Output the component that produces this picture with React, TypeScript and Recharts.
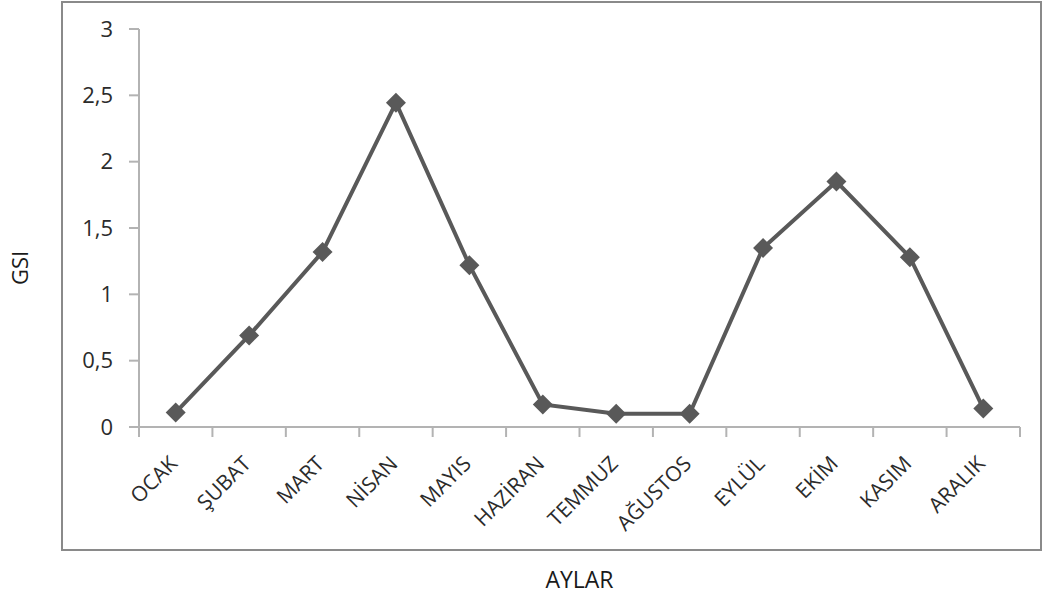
import { Label, Line, LineChart, XAxis, YAxis } from "recharts";

const CHART_W = 1046;
const CHART_H = 598;
const MARGIN = { top: 29, right: 26, bottom: 0, left: 0 };
const Y_AXIS_W = 139;

const months = [
  "OCAK",
  "ŞUBAT",
  "MART",
  "NİSAN",
  "MAYIS",
  "HAZİRAN",
  "TEMMUZ",
  "AĞUSTOS",
  "EYLÜL",
  "EKİM",
  "KASIM",
  "ARALIK",
];

const gsiValues = [0.11, 0.69, 1.32, 2.445, 1.22, 0.17, 0.1, 0.1, 1.35, 1.85, 1.28, 0.14];

const yTicks = [0, 0.5, 1, 1.5, 2, 2.5, 3];

const data = months.map((month, i) => ({ month, gsi: gsiValues[i] }));

const LINE_COLOR = "#595959";
const AXIS_COLOR = "#b3b3b3";
const TEXT_COLOR = "#2b2b2b";
const FONT = "'Open Sans', 'DejaVu Sans', sans-serif";

const BAND = (CHART_W - MARGIN.left - MARGIN.right - Y_AXIS_W) / months.length;

function MonthTick(props: any) {
  const { x, y, payload, index } = props;
  const tx = x + 3;
  const ty = y + 38;
  return (
    <g>
      <line x1={x - BAND / 2} y1={y} x2={x - BAND / 2} y2={y + 10} stroke={AXIS_COLOR} strokeWidth={2} />
      {index === months.length - 1 && (
        <line x1={x + BAND / 2} y1={y} x2={x + BAND / 2} y2={y + 10} stroke={AXIS_COLOR} strokeWidth={2} />
      )}
      <text
        x={tx}
        y={ty}
        textAnchor="end"
        transform={`rotate(-45 ${tx} ${ty})`}
        fill={TEXT_COLOR}
        fontSize={21}
        fontFamily={FONT}
      >
        {payload.value}
      </text>
    </g>
  );
}

function Diamond(props: any) {
  const { cx, cy } = props;
  if (cx == null || cy == null) return null;
  const r = 10;
  return (
    <path
      d={`M ${cx} ${cy - r} L ${cx + r} ${cy} L ${cx} ${cy + r} L ${cx - r} ${cy} Z`}
      fill={LINE_COLOR}
    />
  );
}

export default function App() {
  return (
    <div
      style={{
        position: "absolute",
        left: 0,
        top: 0,
        width: CHART_W,
        height: CHART_H,
        background: "#fff",
      }}
    >
      <div
        style={{
          position: "absolute",
          left: 61,
          top: 1,
          width: 977,
          height: 546,
          border: "2px solid #8a8a8a",
        }}
      />
      <LineChart
        width={CHART_W}
        height={CHART_H}
        data={data}
        margin={MARGIN}
        style={{ position: "absolute", left: 0, top: 0 }}
      >
        <XAxis
          dataKey="month"
          scale="band"
          height={171}
          interval={0}
          axisLine={{ stroke: AXIS_COLOR, strokeWidth: 2 }}
          tickLine={false}
          tickSize={0}
          tickMargin={0}
          tick={<MonthTick />}
        >
          <Label
            value="AYLAR"
            position="insideBottom"
            offset={10}
            fill="#1a1a1a"
            fontSize={23}
            fontFamily={FONT}
          />
        </XAxis>
        <YAxis
          width={Y_AXIS_W}
          domain={[0, 3]}
          ticks={yTicks}
          interval={0}
          axisLine={{ stroke: AXIS_COLOR, strokeWidth: 2 }}
          tickLine={{ stroke: AXIS_COLOR, strokeWidth: 2 }}
          tickSize={10}
          tickMargin={16}
          tickFormatter={(v: number) => String(v).replace(".", ",")}
          tick={{ fill: TEXT_COLOR, fontSize: 22, fontFamily: FONT }}
        >
          <Label
            content={() => (
              <text
                x={28}
                y={268}
                textAnchor="middle"
                transform="rotate(-90 28 268)"
                fill="#1a1a1a"
                fontSize={22}
                fontFamily={FONT}
              >
                GSI
              </text>
            )}
          />
        </YAxis>
        <Line
          dataKey="gsi"
          type="linear"
          stroke={LINE_COLOR}
          strokeWidth={4}
          dot={<Diamond />}
          activeDot={false}
          isAnimationActive={false}
        />
      </LineChart>
    </div>
  );
}
